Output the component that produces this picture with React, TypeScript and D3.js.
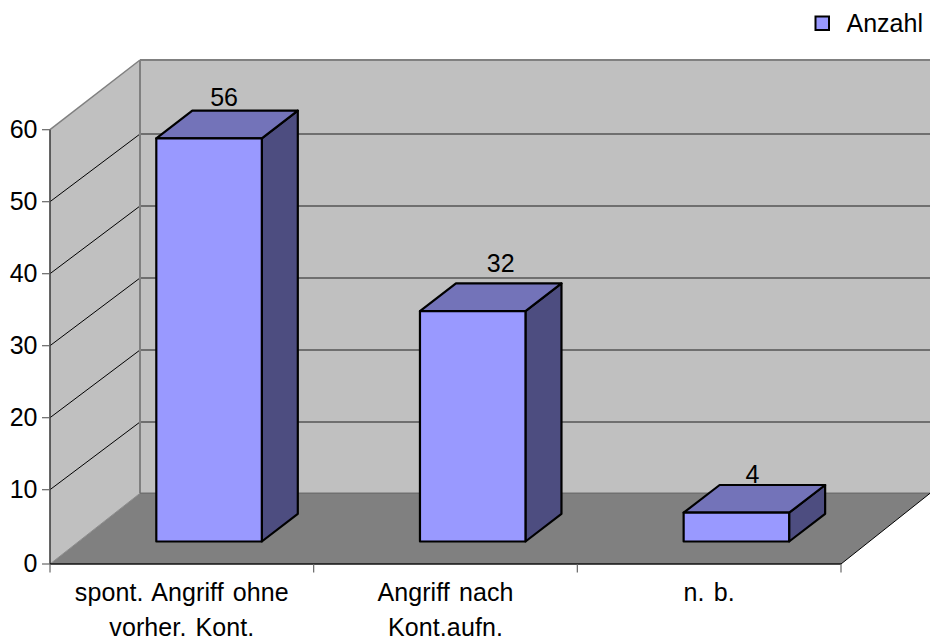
import React from "react";
import * as d3 from "d3";

const categories = ["spont. Angriff ohne|vorher. Kont.", "Angriff nach|Kont.aufn.", "n. b."];
const values = [56, 32, 4];
const yTicks = [0, 10, 20, 30, 40, 50, 60];
const legendLabel = "Anzahl";

const W = 930, H = 637;
const FONT = "Liberation Sans, Arial, sans-serif";
const FS = 25;

export default function App() {
  const x = d3.scaleBand<string>().domain(categories).range([50, 841]);
  const y = d3.scaleLinear().domain([0, 60]).range([561.7, 129.7]);
  const frontBottom = 564, backBottom = 493.3, backTop = 60, backLeft = 140, backRight = 930;
  const gridDY = -67.7;
  const frontY = (t: number) => (t === 0 ? frontBottom : y(t));
  const barDX = 36, barDY = -27.7, barW = 105.5, barInset = 106.3, barBaseShift = -20.2;
  const labelNudge = [[-3, -5], [10, -11], [-2, -2]];
  const pts = (a: number[][]) => a.map((p) => p.join(",")).join(" ");
  const ticksX = [...categories.map((c) => x(c)!), 841];
  const innerTicks = yTicks.filter((t) => t > 0 && t < 60);

  return (
    <svg width={W} height={H} style={{ position: "absolute", left: 0, top: 0, background: "#fff" }} fontFamily={FONT} fontSize={FS} fill="#000">
      {/* walls */}
      <polygon points={pts([[backLeft, backTop], [backRight, backTop], [backRight, backBottom], [backLeft, backBottom]])} fill="#c0c0c0" />
      <polygon points={pts([[50, y(60)], [backLeft, backTop], [backLeft, backBottom], [50, frontBottom]])} fill="#c0c0c0" />
      <polygon points={pts([[50, frontBottom], [841, frontBottom], [backRight, backBottom], [backLeft, backBottom]])} fill="#808080" />
      {/* gridlines */}
      {innerTicks.map((t) => (
        <g key={t}>
          <line x1={50} y1={y(t)} x2={backLeft} y2={y(t) + gridDY} stroke="#000" strokeWidth={1} />
          <line x1={backLeft} y1={y(t) + gridDY} x2={backRight} y2={y(t) + gridDY} stroke="#555" strokeWidth={1.5} />
        </g>
      ))}
      <line x1={50} y1={y(60)} x2={backLeft} y2={backTop} stroke="#808080" strokeWidth={1.5} />
      <line x1={backLeft} y1={backTop} x2={backRight} y2={backTop} stroke="#808080" strokeWidth={2} />
      <line x1={backLeft} y1={backTop} x2={backLeft} y2={backBottom} stroke="#808080" strokeWidth={2} />
      <line x1={backLeft} y1={backBottom} x2={backRight} y2={backBottom} stroke="#707070" strokeWidth={1.5} />
      <line x1={50} y1={frontBottom} x2={backLeft} y2={backBottom} stroke="#8c8c8c" strokeWidth={1} />
      <line x1={841} y1={frontBottom} x2={backRight} y2={backBottom} stroke="#000" strokeWidth={1} />
      {/* axes */}
      <line x1={50} y1={y(60)} x2={50} y2={frontBottom} stroke="#404040" strokeWidth={1.6} />
      <line x1={50} y1={frontBottom} x2={841} y2={frontBottom} stroke="#111" strokeWidth={1.4} />
      {yTicks.map((t) => (
        <g key={t}>
          <line x1={42} y1={frontY(t)} x2={50} y2={frontY(t)} stroke="#666" strokeWidth={1.2} />
          <text x={37.5} y={frontY(t) + 8.2} textAnchor="end">{t}</text>
        </g>
      ))}
      {ticksX.map((v, i) => (
        <line key={i} x1={v} y1={frontBottom} x2={v} y2={frontBottom + 8.5} stroke="#666" strokeWidth={1.2} />
      ))}
      {/* bars */}
      {categories.map((c, i) => {
        const x0 = x(c)! + barInset;
        const x1 = x0 + barW;
        const y0 = y(0) + barBaseShift;
        const yT = y(values[i]) + barBaseShift;
        return (
          <g key={c} stroke="#000" strokeWidth={2.2} strokeLinejoin="round">
            <polygon points={pts([[x1, y0], [x1 + barDX, y0 + barDY], [x1 + barDX, yT + barDY], [x1, yT]])} fill="#4d4d80" />
            <polygon points={pts([[x0, yT], [x1, yT], [x1 + barDX, yT + barDY], [x0 + barDX, yT + barDY]])} fill="#7373b9" />
            <rect x={x0} y={yT} width={barW} height={y0 - yT} fill="#9999ff" />
            <text x={(x0 + x1 + barDX) / 2 + labelNudge[i][0]} y={yT + barDY + labelNudge[i][1]} textAnchor="middle" stroke="none" fill="#000">{values[i]}</text>
          </g>
        );
      })}
      {/* category labels */}
      {categories.map((c) => {
        const cx = x(c)! + x.bandwidth() / 2;
        return (
          <text key={c} textAnchor="middle" wordSpacing={2} letterSpacing={0.1}>
            {c.split("|").map((l, j) => (
              <tspan key={j} x={cx} y={601 + j * 34.5}>{l}</tspan>
            ))}
          </text>
        );
      })}
      {/* legend */}
      <rect x={815.5} y={16.5} width={13.5} height={13.5} fill="#9999ff" stroke="#000" strokeWidth={2} />
      <text x={846.5} y={31.7}>{legendLabel}</text>
    </svg>
  );
}
